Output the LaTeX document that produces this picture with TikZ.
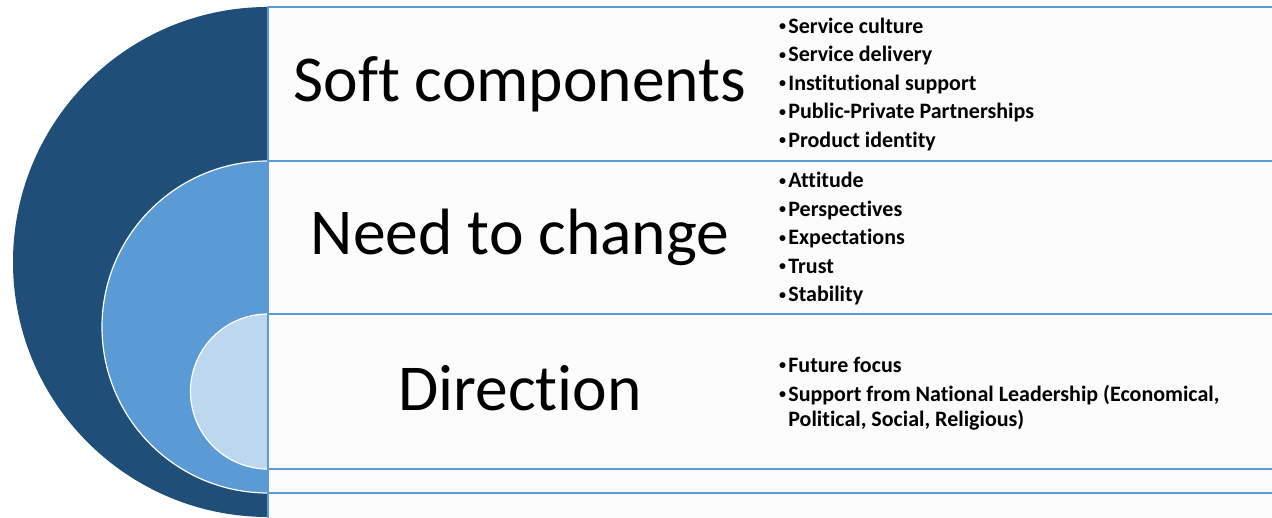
\documentclass[tikz,border=0pt]{standalone}
\usepackage{fontspec}
\setmainfont{Carlito}[Ligatures=NoCommon]
\usetikzlibrary{positioning}
\definecolor{deepblue}{HTML}{1F4E79}
\definecolor{midblue}{HTML}{5B9BD5}
\definecolor{paleblue}{HTML}{BDD7EE}
\definecolor{bandline}{HTML}{5B9BD5}
\definecolor{bandfill}{HTML}{FCFCFC}
\newcommand{\dotitem}{\raisebox{2.9pt}{\fontsize{14}{14}\selectfont•}\hspace{2.2pt}}

\begin{document}
\begin{tikzpicture}[
  x=1pt, y=-1pt,
  band/.style   = {draw=bandline, fill=bandfill, line width=1.5pt},
  halfdisc/.style = {draw=white, line width=1.2pt},
  title/.style  = {font=\fontsize{65.5}{70}\selectfont, inner sep=0pt, anchor=base},
  items/.style  = {font=\fontsize{22}{28.5}\selectfont\bfseries, align=left, anchor=west, inner sep=0pt},
]
  \useasboundingbox (0,0) rectangle (1272,518);
  \clip (0,0) rectangle (1272,518);
  \fill[white] (0,0) rectangle (1272,518);
  \fill[deepblue] (268,7) arc[start angle=270, end angle=90, radius=255] -- cycle;
  \filldraw[halfdisc, fill=midblue]  (268,161) arc[start angle=270, end angle=90, radius=166] -- cycle;
  \filldraw[halfdisc, fill=paleblue] (268,314) arc[start angle=270, end angle=90, radius=77.5] -- cycle;
  \foreach \t/\b in {7/161, 161/314, 314/469, 469/493, 493/540}
     \draw[band] (268,\t) rectangle (1300,\b);
  \node[title] (soft) at (520,102) {Soft components};
  \node[title] (need) at (520,255) {Need to change};
  \node[title] (dir)  at (520,410) {Direction};
  \node[items] (softlist) at (779,84.5)
    {\dotitem Service culture\\\dotitem Service delivery\\\dotitem Institutional support\\\dotitem Public-Private Partnerships\\\dotitem Product identity};
  \node[items] (needlist) at (779,239)
    {\dotitem Attitude\\\dotitem Perspectives\\\dotitem Expectations\\\dotitem Trust\\\dotitem Stability};
  \node[items] (dirlist)  at (779,393.5)
    {\dotitem Future focus\\\dotitem Support from National Leadership (Economical,\\[-3.5pt]\hphantom{\dotitem}Political, Social, Religious)};
\end{tikzpicture}
\end{document}
